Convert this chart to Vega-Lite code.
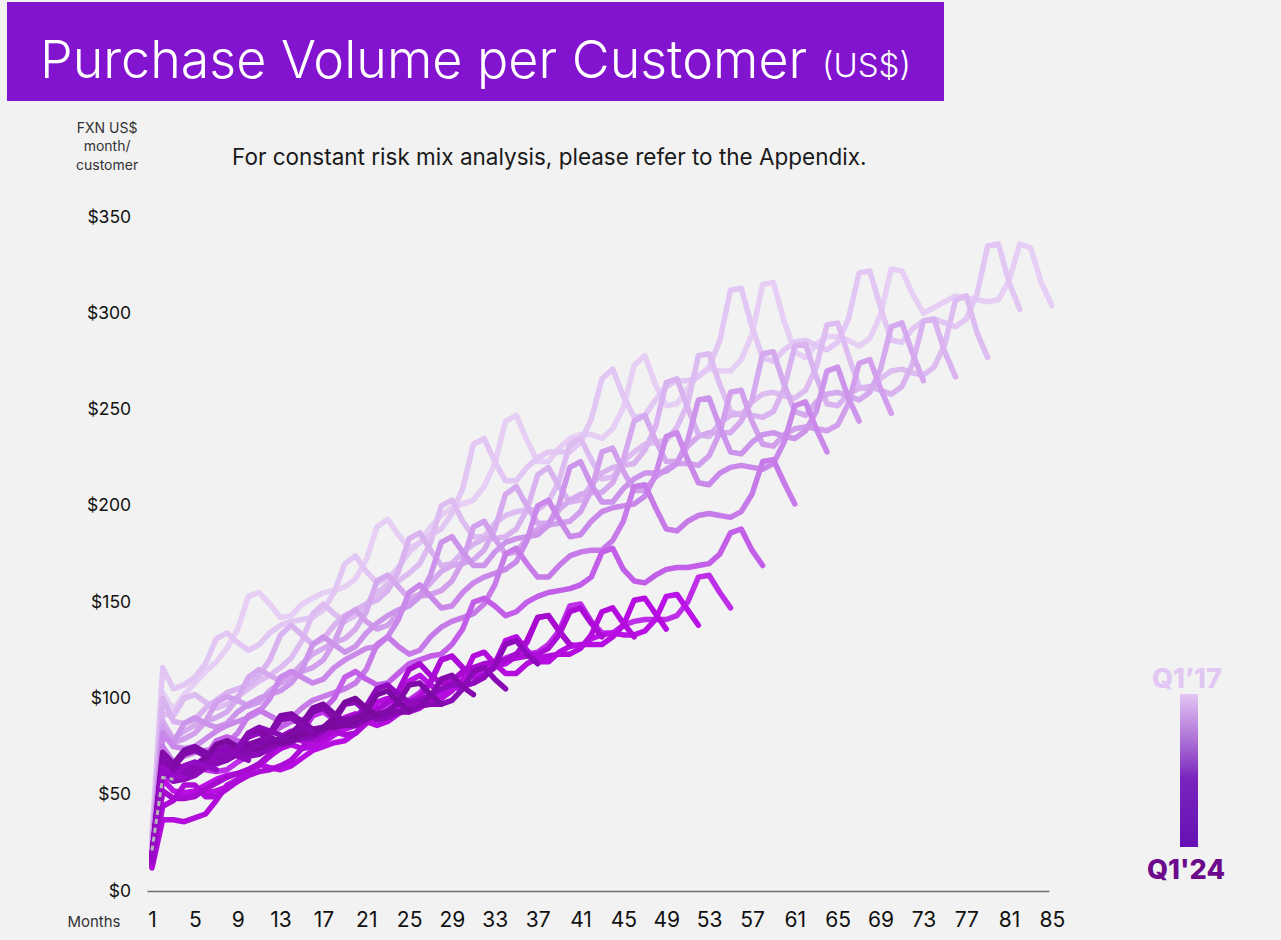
{
"$schema": "https://vega.github.io/schema/vega-lite/v6.json",
"background": "#f2f2f2",
"autosize": {"type": "none"},
"padding": {"left": 7, "top": 2, "right": 1274, "bottom": 938},
"config": {"view": {"stroke": null}, "font": "Inter"},
"title": {"text": "(US$)", "anchor": "start", "frame": "group", "orient": "top", "offset": -108, "dx": 815, "baseline": "alphabetic", "align": "left", "fontSize": 33, "fontWeight": 300, "font": "Inter", "color": "#ffffff", "zindex": 1},
"spacing": 20,
"resolve": {"scale": {"color": "independent"}, "legend": {"color": "independent"}},
"vconcat": [
{
"width": 937, "height": 99,
"view": {"fill": "#8214cf", "stroke": null},
"title": {"text": "Purchase Volume per Customer", "anchor": "start", "frame": "group", "orient": "top", "offset": -128, "dx": 33, "baseline": "alphabetic", "align": "left", "fontSize": 52, "fontWeight": 300, "font": "Inter", "color": "#ffffff"},
"data": {"values": [{}]},
"mark": {"type": "rect", "color": "#8214cf"}
},
{
"width": 1047, "height": 674,
"title": {"text": "For constant risk mix analysis, please refer to the Appendix.", "anchor": "start", "frame": "group", "offset": -66.5, "dx": 225, "baseline": "alphabetic", "align": "left", "fontSize": 22.5, "fontWeight": "normal", "font": "Inter", "color": "#1a1a1a"},
"encoding": {
"x": {"field": "m", "type": "quantitative", "scale": {"domain": [-12.53, 85.19], "nice": false, "zero": false},
 "axis": {"values": [1,5,9,13,17,21,25,29,33,37,41,45,49,53,57,61,65,69,73,77,81,85], "domain": true, "domainColor": "#6e6e6e", "domainWidth": 1.6, "domainDash": [0, 140, 902, 300], "ticks": false, "grid": false, "labelFontSize": 21, "labelFont": "Inter", "labelColor": "#111111", "labelPadding": 18, "labelFlush": false, "labelOverlap": false, "title": "Months", "titleX": 113, "titleY": 30, "titleAlign": "right", "titleBaseline": "middle", "titleFontSize": 15, "titleFont": "Inter", "titleFontWeight": "normal", "titleColor": "#333333"}},
"y": {"field": "v", "type": "quantitative", "scale": {"domain": [0, 350], "nice": false},
 "axis": {"values": [0,50,100,150,200,250,300,350], "labelExpr": "'$' + datum.value", "offset": -139.6, "domain": false, "ticks": false, "grid": false, "labelFontSize": 17.5, "labelFont": "Inter", "labelColor": "#111111", "labelPadding": 16, "labelFlush": false, "labelOverlap": false, "title": ["FXN US$", "month/", "customer"], "titleAngle": 0, "titleAlign": "center", "titleBaseline": "top", "titleX": -40, "titleY": -96, "titleFontSize": 14, "titleFont": "Inter", "titleFontWeight": "normal", "titleColor": "#333333", "titleLineHeight": 18.5}}
},
"resolve": {"scale": {"color": "independent"}},
"layer": [
{
"data": {"values": [
{"c":0,"m":1,"v":27},{"c":0,"m":2,"v":103},{"c":0,"m":3,"v":94},{"c":0,"m":4,"v":102},{"c":0,"m":5,"v":108},{"c":0,"m":6,"v":114},{"c":0,"m":7,"v":119},{"c":0,"m":8,"v":126},{"c":0,"m":9,"v":136},{"c":0,"m":10,"v":153},
{"c":0,"m":11,"v":155},{"c":0,"m":12,"v":149},{"c":0,"m":13,"v":142},{"c":0,"m":14,"v":143},{"c":0,"m":15,"v":149},{"c":0,"m":16,"v":152},{"c":0,"m":17,"v":155},{"c":0,"m":18,"v":156},{"c":0,"m":19,"v":158},{"c":0,"m":20,"v":162},
{"c":0,"m":21,"v":172},{"c":0,"m":22,"v":189},{"c":0,"m":23,"v":193},{"c":0,"m":24,"v":185},{"c":0,"m":25,"v":178},{"c":0,"m":26,"v":181},{"c":0,"m":27,"v":189},{"c":0,"m":28,"v":195},{"c":0,"m":29,"v":199},{"c":0,"m":30,"v":201},
{"c":0,"m":31,"v":203},{"c":0,"m":32,"v":210},{"c":0,"m":33,"v":222},{"c":0,"m":34,"v":244},{"c":0,"m":35,"v":247},{"c":0,"m":36,"v":234},{"c":0,"m":37,"v":223},{"c":0,"m":38,"v":223},{"c":0,"m":39,"v":230},{"c":0,"m":40,"v":235},
{"c":0,"m":41,"v":237},{"c":0,"m":42,"v":237},{"c":0,"m":43,"v":235},{"c":0,"m":44,"v":240},{"c":0,"m":45,"v":251},{"c":0,"m":46,"v":273},{"c":0,"m":47,"v":278},{"c":0,"m":48,"v":263},{"c":0,"m":49,"v":252},{"c":0,"m":50,"v":253},
{"c":0,"m":51,"v":261},{"c":0,"m":52,"v":268},{"c":0,"m":53,"v":271},{"c":0,"m":54,"v":270},{"c":0,"m":55,"v":270},{"c":0,"m":56,"v":276},{"c":0,"m":57,"v":289},{"c":0,"m":58,"v":315},{"c":0,"m":59,"v":316},{"c":0,"m":60,"v":296},
{"c":0,"m":61,"v":280},{"c":0,"m":62,"v":277},{"c":0,"m":63,"v":284},{"c":0,"m":64,"v":288},{"c":0,"m":65,"v":288},{"c":0,"m":66,"v":286},{"c":0,"m":67,"v":283},{"c":0,"m":68,"v":287},{"c":0,"m":69,"v":299},{"c":0,"m":70,"v":323},
{"c":0,"m":71,"v":322},{"c":0,"m":72,"v":310},{"c":0,"m":73,"v":300},{"c":0,"m":74,"v":303},{"c":0,"m":75,"v":306},{"c":0,"m":76,"v":309},{"c":0,"m":77,"v":308},{"c":0,"m":78,"v":307},{"c":0,"m":79,"v":306},{"c":0,"m":80,"v":307},
{"c":0,"m":81,"v":317},{"c":0,"m":82,"v":336},{"c":0,"m":83,"v":334},{"c":0,"m":84,"v":316},{"c":0,"m":85,"v":304},
{"c":1,"m":1,"v":29},{"c":1,"m":2,"v":116},{"c":1,"m":3,"v":105},{"c":1,"m":4,"v":107},{"c":1,"m":5,"v":111},{"c":1,"m":6,"v":118},{"c":1,"m":7,"v":131},{"c":1,"m":8,"v":134},{"c":1,"m":9,"v":129},{"c":1,"m":10,"v":125},
{"c":1,"m":11,"v":128},{"c":1,"m":12,"v":134},{"c":1,"m":13,"v":138},{"c":1,"m":14,"v":140},{"c":1,"m":15,"v":141},{"c":1,"m":16,"v":142},{"c":1,"m":17,"v":146},{"c":1,"m":18,"v":155},{"c":1,"m":19,"v":170},{"c":1,"m":20,"v":174},
{"c":1,"m":21,"v":166},{"c":1,"m":22,"v":160},{"c":1,"m":23,"v":162},{"c":1,"m":24,"v":168},{"c":1,"m":25,"v":176},{"c":1,"m":26,"v":181},{"c":1,"m":27,"v":185},{"c":1,"m":28,"v":188},{"c":1,"m":29,"v":196},{"c":1,"m":30,"v":209},
{"c":1,"m":31,"v":232},{"c":1,"m":32,"v":235},{"c":1,"m":33,"v":223},{"c":1,"m":34,"v":213},{"c":1,"m":35,"v":213},{"c":1,"m":36,"v":220},{"c":1,"m":37,"v":225},{"c":1,"m":38,"v":228},{"c":1,"m":39,"v":228},{"c":1,"m":40,"v":228},
{"c":1,"m":41,"v":233},{"c":1,"m":42,"v":245},{"c":1,"m":43,"v":266},{"c":1,"m":44,"v":271},{"c":1,"m":45,"v":257},{"c":1,"m":46,"v":246},{"c":1,"m":47,"v":247},{"c":1,"m":48,"v":255},{"c":1,"m":49,"v":262},{"c":1,"m":50,"v":265},
{"c":1,"m":51,"v":265},{"c":1,"m":52,"v":267},{"c":1,"m":53,"v":272},{"c":1,"m":54,"v":286},{"c":1,"m":55,"v":312},{"c":1,"m":56,"v":313},{"c":1,"m":57,"v":293},{"c":1,"m":58,"v":277},{"c":1,"m":59,"v":275},{"c":1,"m":60,"v":281},
{"c":1,"m":61,"v":285},{"c":1,"m":62,"v":286},{"c":1,"m":63,"v":283},{"c":1,"m":64,"v":281},{"c":1,"m":65,"v":285},{"c":1,"m":66,"v":297},{"c":1,"m":67,"v":321},{"c":1,"m":68,"v":322},{"c":1,"m":69,"v":303},{"c":1,"m":70,"v":286},
{"c":1,"m":71,"v":285},{"c":1,"m":72,"v":292},{"c":1,"m":73,"v":296},{"c":1,"m":74,"v":297},{"c":1,"m":75,"v":295},{"c":1,"m":76,"v":293},{"c":1,"m":77,"v":297},{"c":1,"m":78,"v":310},{"c":1,"m":79,"v":335},{"c":1,"m":80,"v":336},
{"c":1,"m":81,"v":316},{"c":1,"m":82,"v":302},
{"c":2,"m":1,"v":24},{"c":2,"m":2,"v":92},{"c":2,"m":3,"v":91},{"c":2,"m":4,"v":100},{"c":2,"m":5,"v":102},{"c":2,"m":6,"v":98},{"c":2,"m":7,"v":95},{"c":2,"m":8,"v":97},{"c":2,"m":9,"v":101},{"c":2,"m":10,"v":105},
{"c":2,"m":11,"v":109},{"c":2,"m":12,"v":112},{"c":2,"m":13,"v":116},{"c":2,"m":14,"v":121},{"c":2,"m":15,"v":130},{"c":2,"m":16,"v":144},{"c":2,"m":17,"v":149},{"c":2,"m":18,"v":144},{"c":2,"m":19,"v":140},{"c":2,"m":20,"v":143},
{"c":2,"m":21,"v":149},{"c":2,"m":22,"v":155},{"c":2,"m":23,"v":159},{"c":2,"m":24,"v":161},{"c":2,"m":25,"v":165},{"c":2,"m":26,"v":170},{"c":2,"m":27,"v":181},{"c":2,"m":28,"v":200},{"c":2,"m":29,"v":203},{"c":2,"m":30,"v":192},
{"c":2,"m":31,"v":184},{"c":2,"m":32,"v":184},{"c":2,"m":33,"v":191},{"c":2,"m":34,"v":195},{"c":2,"m":35,"v":197},{"c":2,"m":36,"v":198},{"c":2,"m":37,"v":198},{"c":2,"m":38,"v":202},{"c":2,"m":39,"v":213},{"c":2,"m":40,"v":232},
{"c":2,"m":41,"v":235},{"c":2,"m":42,"v":224},{"c":2,"m":43,"v":214},{"c":2,"m":44,"v":215},{"c":2,"m":45,"v":223},{"c":2,"m":46,"v":228},{"c":2,"m":47,"v":232},{"c":2,"m":48,"v":233},{"c":2,"m":49,"v":234},{"c":2,"m":50,"v":241},
{"c":2,"m":51,"v":253},{"c":2,"m":52,"v":278},{"c":2,"m":53,"v":279},{"c":2,"m":54,"v":263},{"c":2,"m":55,"v":249},{"c":2,"m":56,"v":247},{"c":2,"m":57,"v":254},{"c":2,"m":58,"v":258},{"c":2,"m":59,"v":259},{"c":2,"m":60,"v":257},
{"c":2,"m":61,"v":256},{"c":2,"m":62,"v":260},{"c":2,"m":63,"v":272},{"c":2,"m":64,"v":294},{"c":2,"m":65,"v":295},{"c":2,"m":66,"v":278},{"c":2,"m":67,"v":262},{"c":2,"m":68,"v":260},{"c":2,"m":69,"v":266},{"c":2,"m":70,"v":270},
{"c":2,"m":71,"v":271},{"c":2,"m":72,"v":269},{"c":2,"m":73,"v":268},{"c":2,"m":74,"v":272},{"c":2,"m":75,"v":284},{"c":2,"m":76,"v":307},{"c":2,"m":77,"v":309},{"c":2,"m":78,"v":290},{"c":2,"m":79,"v":277},
{"c":3,"m":1,"v":26},{"c":3,"m":2,"v":100},{"c":3,"m":3,"v":88},{"c":3,"m":4,"v":87},{"c":3,"m":5,"v":89},{"c":3,"m":6,"v":95},{"c":3,"m":7,"v":99},{"c":3,"m":8,"v":103},{"c":3,"m":9,"v":105},{"c":3,"m":10,"v":107},
{"c":3,"m":11,"v":112},{"c":3,"m":12,"v":120},{"c":3,"m":13,"v":133},{"c":3,"m":14,"v":138},{"c":3,"m":15,"v":133},{"c":3,"m":16,"v":128},{"c":3,"m":17,"v":131},{"c":3,"m":18,"v":138},{"c":3,"m":19,"v":143},{"c":3,"m":20,"v":146},
{"c":3,"m":21,"v":149},{"c":3,"m":22,"v":151},{"c":3,"m":23,"v":156},{"c":3,"m":24,"v":166},{"c":3,"m":25,"v":183},{"c":3,"m":26,"v":186},{"c":3,"m":27,"v":177},{"c":3,"m":28,"v":169},{"c":3,"m":29,"v":170},{"c":3,"m":30,"v":176},
{"c":3,"m":31,"v":180},{"c":3,"m":32,"v":183},{"c":3,"m":33,"v":183},{"c":3,"m":34,"v":184},{"c":3,"m":35,"v":188},{"c":3,"m":36,"v":198},{"c":3,"m":37,"v":216},{"c":3,"m":38,"v":220},{"c":3,"m":39,"v":210},{"c":3,"m":40,"v":202},
{"c":3,"m":41,"v":203},{"c":3,"m":42,"v":211},{"c":3,"m":43,"v":217},{"c":3,"m":44,"v":220},{"c":3,"m":45,"v":221},{"c":3,"m":46,"v":222},{"c":3,"m":47,"v":229},{"c":3,"m":48,"v":241},{"c":3,"m":49,"v":264},{"c":3,"m":50,"v":266},
{"c":3,"m":51,"v":251},{"c":3,"m":52,"v":237},{"c":3,"m":53,"v":236},{"c":3,"m":54,"v":243},{"c":3,"m":55,"v":247},{"c":3,"m":56,"v":248},{"c":3,"m":57,"v":247},{"c":3,"m":58,"v":246},{"c":3,"m":59,"v":249},{"c":3,"m":60,"v":261},
{"c":3,"m":61,"v":283},{"c":3,"m":62,"v":284},{"c":3,"m":63,"v":267},{"c":3,"m":64,"v":253},{"c":3,"m":65,"v":252},{"c":3,"m":66,"v":258},{"c":3,"m":67,"v":261},{"c":3,"m":68,"v":262},{"c":3,"m":69,"v":260},{"c":3,"m":70,"v":258},
{"c":3,"m":71,"v":262},{"c":3,"m":72,"v":274},{"c":3,"m":73,"v":296},{"c":3,"m":74,"v":297},{"c":3,"m":75,"v":280},{"c":3,"m":76,"v":267},
{"c":4,"m":1,"v":22},{"c":4,"m":2,"v":88},{"c":4,"m":3,"v":79},{"c":4,"m":4,"v":83},{"c":4,"m":5,"v":86},{"c":4,"m":6,"v":88},{"c":4,"m":7,"v":90},{"c":4,"m":8,"v":93},{"c":4,"m":9,"v":100},{"c":4,"m":10,"v":111},
{"c":4,"m":11,"v":115},{"c":4,"m":12,"v":112},{"c":4,"m":13,"v":109},{"c":4,"m":14,"v":112},{"c":4,"m":15,"v":118},{"c":4,"m":16,"v":123},{"c":4,"m":17,"v":126},{"c":4,"m":18,"v":129},{"c":4,"m":19,"v":131},{"c":4,"m":20,"v":136},
{"c":4,"m":21,"v":145},{"c":4,"m":22,"v":161},{"c":4,"m":23,"v":164},{"c":4,"m":24,"v":158},{"c":4,"m":25,"v":152},{"c":4,"m":26,"v":154},{"c":4,"m":27,"v":160},{"c":4,"m":28,"v":166},{"c":4,"m":29,"v":169},{"c":4,"m":30,"v":170},
{"c":4,"m":31,"v":172},{"c":4,"m":32,"v":177},{"c":4,"m":33,"v":188},{"c":4,"m":34,"v":206},{"c":4,"m":35,"v":210},{"c":4,"m":36,"v":200},{"c":4,"m":37,"v":191},{"c":4,"m":38,"v":191},{"c":4,"m":39,"v":198},{"c":4,"m":40,"v":203},
{"c":4,"m":41,"v":206},{"c":4,"m":42,"v":207},{"c":4,"m":43,"v":207},{"c":4,"m":44,"v":212},{"c":4,"m":45,"v":224},{"c":4,"m":46,"v":244},{"c":4,"m":47,"v":247},{"c":4,"m":48,"v":234},{"c":4,"m":49,"v":223},{"c":4,"m":50,"v":223},
{"c":4,"m":51,"v":231},{"c":4,"m":52,"v":236},{"c":4,"m":53,"v":238},{"c":4,"m":54,"v":238},{"c":4,"m":55,"v":238},{"c":4,"m":56,"v":244},{"c":4,"m":57,"v":255},{"c":4,"m":58,"v":279},{"c":4,"m":59,"v":280},{"c":4,"m":60,"v":263},
{"c":4,"m":61,"v":249},{"c":4,"m":62,"v":247},{"c":4,"m":63,"v":254},{"c":4,"m":64,"v":258},{"c":4,"m":65,"v":259},{"c":4,"m":66,"v":257},{"c":4,"m":67,"v":255},{"c":4,"m":68,"v":259},{"c":4,"m":69,"v":271},{"c":4,"m":70,"v":293},
{"c":4,"m":71,"v":295},{"c":4,"m":72,"v":279},{"c":4,"m":73,"v":265},
{"c":5,"m":1,"v":21},{"c":5,"m":2,"v":85},{"c":5,"m":3,"v":77},{"c":5,"m":4,"v":79},{"c":5,"m":5,"v":82},{"c":5,"m":6,"v":88},{"c":5,"m":7,"v":98},{"c":5,"m":8,"v":101},{"c":5,"m":9,"v":99},{"c":5,"m":10,"v":96},
{"c":5,"m":11,"v":98},{"c":5,"m":12,"v":104},{"c":5,"m":13,"v":108},{"c":5,"m":14,"v":111},{"c":5,"m":15,"v":114},{"c":5,"m":16,"v":116},{"c":5,"m":17,"v":120},{"c":5,"m":18,"v":129},{"c":5,"m":19,"v":142},{"c":5,"m":20,"v":146},
{"c":5,"m":21,"v":140},{"c":5,"m":22,"v":136},{"c":5,"m":23,"v":138},{"c":5,"m":24,"v":144},{"c":5,"m":25,"v":149},{"c":5,"m":26,"v":153},{"c":5,"m":27,"v":154},{"c":5,"m":28,"v":156},{"c":5,"m":29,"v":161},{"c":5,"m":30,"v":171},
{"c":5,"m":31,"v":189},{"c":5,"m":32,"v":192},{"c":5,"m":33,"v":183},{"c":5,"m":34,"v":175},{"c":5,"m":35,"v":176},{"c":5,"m":36,"v":183},{"c":5,"m":37,"v":188},{"c":5,"m":38,"v":190},{"c":5,"m":39,"v":191},{"c":5,"m":40,"v":192},
{"c":5,"m":41,"v":197},{"c":5,"m":42,"v":208},{"c":5,"m":43,"v":228},{"c":5,"m":44,"v":230},{"c":5,"m":45,"v":218},{"c":5,"m":46,"v":208},{"c":5,"m":47,"v":208},{"c":5,"m":48,"v":215},{"c":5,"m":49,"v":219},{"c":5,"m":50,"v":222},
{"c":5,"m":51,"v":222},{"c":5,"m":52,"v":221},{"c":5,"m":53,"v":226},{"c":5,"m":54,"v":238},{"c":5,"m":55,"v":259},{"c":5,"m":56,"v":260},{"c":5,"m":57,"v":244},{"c":5,"m":58,"v":232},{"c":5,"m":59,"v":231},{"c":5,"m":60,"v":237},
{"c":5,"m":61,"v":240},{"c":5,"m":62,"v":241},{"c":5,"m":63,"v":240},{"c":5,"m":64,"v":239},{"c":5,"m":65,"v":242},{"c":5,"m":66,"v":253},{"c":5,"m":67,"v":274},{"c":5,"m":68,"v":276},{"c":5,"m":69,"v":261},{"c":5,"m":70,"v":248},
{"c":6,"m":1,"v":20},{"c":6,"m":2,"v":80},{"c":6,"m":3,"v":77},{"c":6,"m":4,"v":87},{"c":6,"m":5,"v":90},{"c":6,"m":6,"v":87},{"c":6,"m":7,"v":85},{"c":6,"m":8,"v":87},{"c":6,"m":9,"v":93},{"c":6,"m":10,"v":97},
{"c":6,"m":11,"v":100},{"c":6,"m":12,"v":102},{"c":6,"m":13,"v":104},{"c":6,"m":14,"v":108},{"c":6,"m":15,"v":115},{"c":6,"m":16,"v":128},{"c":6,"m":17,"v":132},{"c":6,"m":18,"v":128},{"c":6,"m":19,"v":124},{"c":6,"m":20,"v":127},
{"c":6,"m":21,"v":134},{"c":6,"m":22,"v":139},{"c":6,"m":23,"v":143},{"c":6,"m":24,"v":146},{"c":6,"m":25,"v":148},{"c":6,"m":26,"v":153},{"c":6,"m":27,"v":164},{"c":6,"m":28,"v":181},{"c":6,"m":29,"v":184},{"c":6,"m":30,"v":176},
{"c":6,"m":31,"v":169},{"c":6,"m":32,"v":169},{"c":6,"m":33,"v":176},{"c":6,"m":34,"v":181},{"c":6,"m":35,"v":183},{"c":6,"m":36,"v":184},{"c":6,"m":37,"v":185},{"c":6,"m":38,"v":190},{"c":6,"m":39,"v":201},{"c":6,"m":40,"v":220},
{"c":6,"m":41,"v":223},{"c":6,"m":42,"v":211},{"c":6,"m":43,"v":202},{"c":6,"m":44,"v":202},{"c":6,"m":45,"v":209},{"c":6,"m":46,"v":214},{"c":6,"m":47,"v":217},{"c":6,"m":48,"v":217},{"c":6,"m":49,"v":218},{"c":6,"m":50,"v":222},
{"c":6,"m":51,"v":234},{"c":6,"m":52,"v":255},{"c":6,"m":53,"v":256},{"c":6,"m":54,"v":241},{"c":6,"m":55,"v":228},{"c":6,"m":56,"v":227},{"c":6,"m":57,"v":233},{"c":6,"m":58,"v":237},{"c":6,"m":59,"v":238},{"c":6,"m":60,"v":236},
{"c":6,"m":61,"v":235},{"c":6,"m":62,"v":239},{"c":6,"m":63,"v":249},{"c":6,"m":64,"v":270},{"c":6,"m":65,"v":272},{"c":6,"m":66,"v":256},{"c":6,"m":67,"v":244},
{"c":7,"m":1,"v":20},{"c":7,"m":2,"v":82},{"c":7,"m":3,"v":75},{"c":7,"m":4,"v":74},{"c":7,"m":5,"v":75},{"c":7,"m":6,"v":79},{"c":7,"m":7,"v":83},{"c":7,"m":8,"v":86},{"c":7,"m":9,"v":88},{"c":7,"m":10,"v":90},
{"c":7,"m":11,"v":93},{"c":7,"m":12,"v":100},{"c":7,"m":13,"v":111},{"c":7,"m":14,"v":114},{"c":7,"m":15,"v":111},{"c":7,"m":16,"v":108},{"c":7,"m":17,"v":110},{"c":7,"m":18,"v":116},{"c":7,"m":19,"v":120},{"c":7,"m":20,"v":123},
{"c":7,"m":21,"v":126},{"c":7,"m":22,"v":127},{"c":7,"m":23,"v":132},{"c":7,"m":24,"v":141},{"c":7,"m":25,"v":155},{"c":7,"m":26,"v":159},{"c":7,"m":27,"v":153},{"c":7,"m":28,"v":147},{"c":7,"m":29,"v":148},{"c":7,"m":30,"v":155},
{"c":7,"m":31,"v":160},{"c":7,"m":32,"v":163},{"c":7,"m":33,"v":165},{"c":7,"m":34,"v":167},{"c":7,"m":35,"v":171},{"c":7,"m":36,"v":182},{"c":7,"m":37,"v":200},{"c":7,"m":38,"v":203},{"c":7,"m":39,"v":193},{"c":7,"m":40,"v":184},
{"c":7,"m":41,"v":185},{"c":7,"m":42,"v":192},{"c":7,"m":43,"v":197},{"c":7,"m":44,"v":199},{"c":7,"m":45,"v":200},{"c":7,"m":46,"v":201},{"c":7,"m":47,"v":205},{"c":7,"m":48,"v":216},{"c":7,"m":49,"v":236},{"c":7,"m":50,"v":238},
{"c":7,"m":51,"v":224},{"c":7,"m":52,"v":212},{"c":7,"m":53,"v":211},{"c":7,"m":54,"v":217},{"c":7,"m":55,"v":220},{"c":7,"m":56,"v":221},{"c":7,"m":57,"v":220},{"c":7,"m":58,"v":219},{"c":7,"m":59,"v":222},{"c":7,"m":60,"v":233},
{"c":7,"m":61,"v":252},{"c":7,"m":62,"v":254},{"c":7,"m":63,"v":240},{"c":7,"m":64,"v":228},
{"c":8,"m":1,"v":19},{"c":8,"m":2,"v":75},{"c":8,"m":3,"v":67},{"c":8,"m":4,"v":70},{"c":8,"m":5,"v":72},{"c":8,"m":6,"v":73},{"c":8,"m":7,"v":74},{"c":8,"m":8,"v":77},{"c":8,"m":9,"v":82},{"c":8,"m":10,"v":91},
{"c":8,"m":11,"v":94},{"c":8,"m":12,"v":91},{"c":8,"m":13,"v":88},{"c":8,"m":14,"v":90},{"c":8,"m":15,"v":95},{"c":8,"m":16,"v":99},{"c":8,"m":17,"v":101},{"c":8,"m":18,"v":103},{"c":8,"m":19,"v":105},{"c":8,"m":20,"v":108},
{"c":8,"m":21,"v":115},{"c":8,"m":22,"v":128},{"c":8,"m":23,"v":132},{"c":8,"m":24,"v":127},{"c":8,"m":25,"v":123},{"c":8,"m":26,"v":125},{"c":8,"m":27,"v":132},{"c":8,"m":28,"v":137},{"c":8,"m":29,"v":140},{"c":8,"m":30,"v":142},
{"c":8,"m":31,"v":144},{"c":8,"m":32,"v":149},{"c":8,"m":33,"v":159},{"c":8,"m":34,"v":175},{"c":8,"m":35,"v":178},{"c":8,"m":36,"v":170},{"c":8,"m":37,"v":163},{"c":8,"m":38,"v":163},{"c":8,"m":39,"v":169},{"c":8,"m":40,"v":174},
{"c":8,"m":41,"v":176},{"c":8,"m":42,"v":177},{"c":8,"m":43,"v":177},{"c":8,"m":44,"v":182},{"c":8,"m":45,"v":192},{"c":8,"m":46,"v":210},{"c":8,"m":47,"v":211},{"c":8,"m":48,"v":199},{"c":8,"m":49,"v":188},{"c":8,"m":50,"v":187},
{"c":8,"m":51,"v":192},{"c":8,"m":52,"v":195},{"c":8,"m":53,"v":196},{"c":8,"m":54,"v":195},{"c":8,"m":55,"v":194},{"c":8,"m":56,"v":197},{"c":8,"m":57,"v":206},{"c":8,"m":58,"v":223},{"c":8,"m":59,"v":224},{"c":8,"m":60,"v":212},
{"c":8,"m":61,"v":201},
{"c":9,"m":1,"v":18},{"c":9,"m":2,"v":68},{"c":9,"m":3,"v":61},{"c":9,"m":4,"v":63},{"c":9,"m":5,"v":65},{"c":9,"m":6,"v":70},{"c":9,"m":7,"v":78},{"c":9,"m":8,"v":80},{"c":9,"m":9,"v":78},{"c":9,"m":10,"v":76},
{"c":9,"m":11,"v":78},{"c":9,"m":12,"v":82},{"c":9,"m":13,"v":85},{"c":9,"m":14,"v":88},{"c":9,"m":15,"v":89},{"c":9,"m":16,"v":91},{"c":9,"m":17,"v":94},{"c":9,"m":18,"v":100},{"c":9,"m":19,"v":111},{"c":9,"m":20,"v":114},
{"c":9,"m":21,"v":110},{"c":9,"m":22,"v":107},{"c":9,"m":23,"v":108},{"c":9,"m":24,"v":113},{"c":9,"m":25,"v":118},{"c":9,"m":26,"v":120},{"c":9,"m":27,"v":122},{"c":9,"m":28,"v":123},{"c":9,"m":29,"v":128},{"c":9,"m":30,"v":136},
{"c":9,"m":31,"v":150},{"c":9,"m":32,"v":152},{"c":9,"m":33,"v":148},{"c":9,"m":34,"v":143},{"c":9,"m":35,"v":145},{"c":9,"m":36,"v":150},{"c":9,"m":37,"v":153},{"c":9,"m":38,"v":155},{"c":9,"m":39,"v":156},{"c":9,"m":40,"v":157},
{"c":9,"m":41,"v":159},{"c":9,"m":42,"v":163},{"c":9,"m":43,"v":176},{"c":9,"m":44,"v":178},{"c":9,"m":45,"v":167},{"c":9,"m":46,"v":161},{"c":9,"m":47,"v":160},{"c":9,"m":48,"v":164},{"c":9,"m":49,"v":167},{"c":9,"m":50,"v":168},
{"c":9,"m":51,"v":168},{"c":9,"m":52,"v":169},{"c":9,"m":53,"v":170},{"c":9,"m":54,"v":175},{"c":9,"m":55,"v":186},{"c":9,"m":56,"v":188},{"c":9,"m":57,"v":177},{"c":9,"m":58,"v":169},
{"c":10,"m":1,"v":16},{"c":10,"m":2,"v":60},{"c":10,"m":3,"v":57},{"c":10,"m":4,"v":63},{"c":10,"m":5,"v":65},{"c":10,"m":6,"v":63},{"c":10,"m":7,"v":62},{"c":10,"m":8,"v":63},{"c":10,"m":9,"v":67},{"c":10,"m":10,"v":70},
{"c":10,"m":11,"v":72},{"c":10,"m":12,"v":73},{"c":10,"m":13,"v":74},{"c":10,"m":14,"v":77},{"c":10,"m":15,"v":82},{"c":10,"m":16,"v":91},{"c":10,"m":17,"v":93},{"c":10,"m":18,"v":89},{"c":10,"m":19,"v":87},{"c":10,"m":20,"v":88},
{"c":10,"m":21,"v":92},{"c":10,"m":22,"v":95},{"c":10,"m":23,"v":97},{"c":10,"m":24,"v":98},{"c":10,"m":25,"v":99},{"c":10,"m":26,"v":103},{"c":10,"m":27,"v":109},{"c":10,"m":28,"v":120},{"c":10,"m":29,"v":122},{"c":10,"m":30,"v":116},
{"c":10,"m":31,"v":112},{"c":10,"m":32,"v":113},{"c":10,"m":33,"v":117},{"c":10,"m":34,"v":121},{"c":10,"m":35,"v":123},{"c":10,"m":36,"v":123},{"c":10,"m":37,"v":124},{"c":10,"m":38,"v":128},{"c":10,"m":39,"v":135},{"c":10,"m":40,"v":148},
{"c":10,"m":41,"v":149},{"c":10,"m":42,"v":140},{"c":10,"m":43,"v":134},{"c":10,"m":44,"v":134},{"c":10,"m":45,"v":138},{"c":10,"m":46,"v":140},{"c":10,"m":47,"v":141},{"c":10,"m":48,"v":141},{"c":10,"m":49,"v":141},{"c":10,"m":50,"v":143},
{"c":10,"m":51,"v":150},{"c":10,"m":52,"v":163},{"c":10,"m":53,"v":164},{"c":10,"m":54,"v":155},{"c":10,"m":55,"v":147},
{"c":11,"m":1,"v":15},{"c":11,"m":2,"v":58},{"c":11,"m":3,"v":52},{"c":11,"m":4,"v":51},{"c":11,"m":5,"v":52},{"c":11,"m":6,"v":55},{"c":11,"m":7,"v":58},{"c":11,"m":8,"v":60},{"c":11,"m":9,"v":61},{"c":11,"m":10,"v":63},
{"c":11,"m":11,"v":65},{"c":11,"m":12,"v":70},{"c":11,"m":13,"v":78},{"c":11,"m":14,"v":80},{"c":11,"m":15,"v":78},{"c":11,"m":16,"v":75},{"c":11,"m":17,"v":77},{"c":11,"m":18,"v":81},{"c":11,"m":19,"v":84},{"c":11,"m":20,"v":86},
{"c":11,"m":21,"v":88},{"c":11,"m":22,"v":89},{"c":11,"m":23,"v":92},{"c":11,"m":24,"v":99},{"c":11,"m":25,"v":109},{"c":11,"m":26,"v":112},{"c":11,"m":27,"v":107},{"c":11,"m":28,"v":103},{"c":11,"m":29,"v":105},{"c":11,"m":30,"v":109},
{"c":11,"m":31,"v":113},{"c":11,"m":32,"v":116},{"c":11,"m":33,"v":117},{"c":11,"m":34,"v":118},{"c":11,"m":35,"v":122},{"c":11,"m":36,"v":129},{"c":11,"m":37,"v":142},{"c":11,"m":38,"v":143},{"c":11,"m":39,"v":135},{"c":11,"m":40,"v":128},
{"c":11,"m":41,"v":127},{"c":11,"m":42,"v":131},{"c":11,"m":43,"v":133},{"c":11,"m":44,"v":134},{"c":11,"m":45,"v":133},{"c":11,"m":46,"v":133},{"c":11,"m":47,"v":135},{"c":11,"m":48,"v":141},{"c":11,"m":49,"v":153},{"c":11,"m":50,"v":154},
{"c":11,"m":51,"v":146},{"c":11,"m":52,"v":138},
{"c":12,"m":1,"v":14},{"c":12,"m":2,"v":52},{"c":12,"m":3,"v":48},{"c":12,"m":4,"v":49},{"c":12,"m":5,"v":51},{"c":12,"m":6,"v":51},{"c":12,"m":7,"v":52},{"c":12,"m":8,"v":54},{"c":12,"m":9,"v":57},{"c":12,"m":10,"v":63},
{"c":12,"m":11,"v":66},{"c":12,"m":12,"v":64},{"c":12,"m":13,"v":63},{"c":12,"m":14,"v":65},{"c":12,"m":15,"v":69},{"c":12,"m":16,"v":73},{"c":12,"m":17,"v":75},{"c":12,"m":18,"v":77},{"c":12,"m":19,"v":78},{"c":12,"m":20,"v":82},
{"c":12,"m":21,"v":88},{"c":12,"m":22,"v":98},{"c":12,"m":23,"v":100},{"c":12,"m":24,"v":97},{"c":12,"m":25,"v":93},{"c":12,"m":26,"v":95},{"c":12,"m":27,"v":99},{"c":12,"m":28,"v":103},{"c":12,"m":29,"v":105},{"c":12,"m":30,"v":106},
{"c":12,"m":31,"v":108},{"c":12,"m":32,"v":111},{"c":12,"m":33,"v":118},{"c":12,"m":34,"v":130},{"c":12,"m":35,"v":132},{"c":12,"m":36,"v":125},{"c":12,"m":37,"v":119},{"c":12,"m":38,"v":119},{"c":12,"m":39,"v":124},{"c":12,"m":40,"v":127},
{"c":12,"m":41,"v":128},{"c":12,"m":42,"v":128},{"c":12,"m":43,"v":128},{"c":12,"m":44,"v":132},{"c":12,"m":45,"v":138},{"c":12,"m":46,"v":151},{"c":12,"m":47,"v":152},{"c":12,"m":48,"v":144},{"c":12,"m":49,"v":136},
{"c":13,"m":1,"v":12},{"c":13,"m":2,"v":37},{"c":13,"m":3,"v":37},{"c":13,"m":4,"v":36},{"c":13,"m":5,"v":38},{"c":13,"m":6,"v":40},{"c":13,"m":7,"v":47},{"c":13,"m":8,"v":55},{"c":13,"m":9,"v":58},{"c":13,"m":10,"v":62},
{"c":13,"m":11,"v":66},{"c":13,"m":12,"v":70},{"c":13,"m":13,"v":74},{"c":13,"m":14,"v":76},{"c":13,"m":15,"v":74},{"c":13,"m":16,"v":75},{"c":13,"m":17,"v":78},{"c":13,"m":18,"v":83},{"c":13,"m":19,"v":90},{"c":13,"m":20,"v":92},
{"c":13,"m":21,"v":88},{"c":13,"m":22,"v":86},{"c":13,"m":23,"v":88},{"c":13,"m":24,"v":92},{"c":13,"m":25,"v":95},{"c":13,"m":26,"v":97},{"c":13,"m":27,"v":98},{"c":13,"m":28,"v":100},{"c":13,"m":29,"v":104},{"c":13,"m":30,"v":110},
{"c":13,"m":31,"v":122},{"c":13,"m":32,"v":124},{"c":13,"m":33,"v":118},{"c":13,"m":34,"v":113},{"c":13,"m":35,"v":113},{"c":13,"m":36,"v":118},{"c":13,"m":37,"v":121},{"c":13,"m":38,"v":122},{"c":13,"m":39,"v":123},{"c":13,"m":40,"v":123},
{"c":13,"m":41,"v":126},{"c":13,"m":42,"v":133},{"c":13,"m":43,"v":145},{"c":13,"m":44,"v":147},{"c":13,"m":45,"v":139},{"c":13,"m":46,"v":132},
{"c":14,"m":1,"v":13},{"c":14,"m":2,"v":44},{"c":14,"m":3,"v":47},{"c":14,"m":4,"v":55},{"c":14,"m":5,"v":55},{"c":14,"m":6,"v":49},{"c":14,"m":7,"v":49},{"c":14,"m":8,"v":53},{"c":14,"m":9,"v":57},{"c":14,"m":10,"v":60},
{"c":14,"m":11,"v":62},{"c":14,"m":12,"v":63},{"c":14,"m":13,"v":65},{"c":14,"m":14,"v":68},{"c":14,"m":15,"v":74},{"c":14,"m":16,"v":82},{"c":14,"m":17,"v":85},{"c":14,"m":18,"v":83},{"c":14,"m":19,"v":81},{"c":14,"m":20,"v":82},
{"c":14,"m":21,"v":87},{"c":14,"m":22,"v":91},{"c":14,"m":23,"v":94},{"c":14,"m":24,"v":96},{"c":14,"m":25,"v":98},{"c":14,"m":26,"v":101},{"c":14,"m":27,"v":108},{"c":14,"m":28,"v":120},{"c":14,"m":29,"v":122},{"c":14,"m":30,"v":116},
{"c":14,"m":31,"v":111},{"c":14,"m":32,"v":112},{"c":14,"m":33,"v":116},{"c":14,"m":34,"v":120},{"c":14,"m":35,"v":121},{"c":14,"m":36,"v":122},{"c":14,"m":37,"v":123},{"c":14,"m":38,"v":126},{"c":14,"m":39,"v":133},{"c":14,"m":40,"v":145},
{"c":14,"m":41,"v":147},{"c":14,"m":42,"v":139},{"c":14,"m":43,"v":132},
{"c":15,"m":1,"v":14},{"c":15,"m":2,"v":52},{"c":15,"m":3,"v":48},{"c":15,"m":4,"v":48},{"c":15,"m":5,"v":49},{"c":15,"m":6,"v":53},{"c":15,"m":7,"v":56},{"c":15,"m":8,"v":59},{"c":15,"m":9,"v":61},{"c":15,"m":10,"v":63},
{"c":15,"m":11,"v":66},{"c":15,"m":12,"v":71},{"c":15,"m":13,"v":80},{"c":15,"m":14,"v":83},{"c":15,"m":15,"v":80},{"c":15,"m":16,"v":78},{"c":15,"m":17,"v":80},{"c":15,"m":18,"v":84},{"c":15,"m":19,"v":88},{"c":15,"m":20,"v":91},
{"c":15,"m":21,"v":92},{"c":15,"m":22,"v":94},{"c":15,"m":23,"v":98},{"c":15,"m":24,"v":104},{"c":15,"m":25,"v":115},{"c":15,"m":26,"v":118},{"c":15,"m":27,"v":112},{"c":15,"m":28,"v":108},{"c":15,"m":29,"v":109},{"c":15,"m":30,"v":114},
{"c":15,"m":31,"v":116},{"c":15,"m":32,"v":118},{"c":15,"m":33,"v":119},{"c":15,"m":34,"v":120},{"c":15,"m":35,"v":123},{"c":15,"m":36,"v":130},{"c":15,"m":37,"v":142},{"c":15,"m":38,"v":143},{"c":15,"m":39,"v":135},{"c":15,"m":40,"v":128},
{"c":16,"m":1,"v":18},{"c":16,"m":2,"v":68},{"c":16,"m":3,"v":61},{"c":16,"m":4,"v":63},{"c":16,"m":5,"v":65},{"c":16,"m":6,"v":65},{"c":16,"m":7,"v":66},{"c":16,"m":8,"v":68},{"c":16,"m":9,"v":73},{"c":16,"m":10,"v":80},
{"c":16,"m":11,"v":82},{"c":16,"m":12,"v":79},{"c":16,"m":13,"v":76},{"c":16,"m":14,"v":77},{"c":16,"m":15,"v":81},{"c":16,"m":16,"v":84},{"c":16,"m":17,"v":85},{"c":16,"m":18,"v":86},{"c":16,"m":19,"v":87},{"c":16,"m":20,"v":90},
{"c":16,"m":21,"v":96},{"c":16,"m":22,"v":105},{"c":16,"m":23,"v":107},{"c":16,"m":24,"v":102},{"c":16,"m":25,"v":98},{"c":16,"m":26,"v":99},{"c":16,"m":27,"v":102},{"c":16,"m":28,"v":105},{"c":16,"m":29,"v":107},{"c":16,"m":30,"v":107},
{"c":16,"m":31,"v":108},{"c":16,"m":32,"v":111},{"c":16,"m":33,"v":117},{"c":16,"m":34,"v":128},{"c":16,"m":35,"v":130},{"c":16,"m":36,"v":123},{"c":16,"m":37,"v":118},
{"c":17,"m":1,"v":17},{"c":17,"m":2,"v":65},{"c":17,"m":3,"v":59},{"c":17,"m":4,"v":60},{"c":17,"m":5,"v":62},{"c":17,"m":6,"v":66},{"c":17,"m":7,"v":73},{"c":17,"m":8,"v":75},{"c":17,"m":9,"v":72},{"c":17,"m":10,"v":70},
{"c":17,"m":11,"v":71},{"c":17,"m":12,"v":74},{"c":17,"m":13,"v":77},{"c":17,"m":14,"v":78},{"c":17,"m":15,"v":79},{"c":17,"m":16,"v":80},{"c":17,"m":17,"v":83},{"c":17,"m":18,"v":88},{"c":17,"m":19,"v":97},{"c":17,"m":20,"v":98},
{"c":17,"m":21,"v":93},{"c":17,"m":22,"v":89},{"c":17,"m":23,"v":90},{"c":17,"m":24,"v":93},{"c":17,"m":25,"v":95},{"c":17,"m":26,"v":96},{"c":17,"m":27,"v":97},{"c":17,"m":28,"v":97},{"c":17,"m":29,"v":99},{"c":17,"m":30,"v":105},
{"c":17,"m":31,"v":114},{"c":17,"m":32,"v":116},{"c":17,"m":33,"v":110},{"c":17,"m":34,"v":105},
{"c":18,"m":1,"v":17},{"c":18,"m":2,"v":66},{"c":18,"m":3,"v":64},{"c":18,"m":4,"v":71},{"c":18,"m":5,"v":73},{"c":18,"m":6,"v":70},{"c":18,"m":7,"v":67},{"c":18,"m":8,"v":68},{"c":18,"m":9,"v":71},{"c":18,"m":10,"v":74},
{"c":18,"m":11,"v":76},{"c":18,"m":12,"v":76},{"c":18,"m":13,"v":77},{"c":18,"m":14,"v":80},{"c":18,"m":15,"v":85},{"c":18,"m":16,"v":93},{"c":18,"m":17,"v":95},{"c":18,"m":18,"v":90},{"c":18,"m":19,"v":86},{"c":18,"m":20,"v":86},
{"c":18,"m":21,"v":89},{"c":18,"m":22,"v":92},{"c":18,"m":23,"v":93},{"c":18,"m":24,"v":93},{"c":18,"m":25,"v":93},{"c":18,"m":26,"v":96},{"c":18,"m":27,"v":101},{"c":18,"m":28,"v":110},{"c":18,"m":29,"v":112},{"c":18,"m":30,"v":106},
{"c":18,"m":31,"v":102},
{"c":19,"m":1,"v":18},{"c":19,"m":2,"v":72},{"c":19,"m":3,"v":66},{"c":19,"m":4,"v":64},{"c":19,"m":5,"v":65},{"c":19,"m":6,"v":68},{"c":19,"m":7,"v":70},{"c":19,"m":8,"v":73},{"c":19,"m":9,"v":74},{"c":19,"m":10,"v":75},
{"c":19,"m":11,"v":77},{"c":19,"m":12,"v":82},{"c":19,"m":13,"v":91},{"c":19,"m":14,"v":92},{"c":19,"m":15,"v":88},{"c":19,"m":16,"v":84},{"c":19,"m":17,"v":84},{"c":19,"m":18,"v":87},{"c":19,"m":19,"v":89},{"c":19,"m":20,"v":90},
{"c":19,"m":21,"v":90},{"c":19,"m":22,"v":91},{"c":19,"m":23,"v":93},{"c":19,"m":24,"v":98},{"c":19,"m":25,"v":107},{"c":19,"m":26,"v":108},{"c":19,"m":27,"v":102},{"c":19,"m":28,"v":97},
{"c":20,"m":1,"v":18},{"c":20,"m":2,"v":67},{"c":20,"m":3,"v":61},{"c":20,"m":4,"v":64},{"c":20,"m":5,"v":65},{"c":20,"m":6,"v":66},{"c":20,"m":7,"v":68},{"c":20,"m":8,"v":70},{"c":20,"m":9,"v":74},{"c":20,"m":10,"v":82},
{"c":20,"m":11,"v":84},{"c":20,"m":12,"v":80},{"c":20,"m":13,"v":77},{"c":20,"m":14,"v":78},{"c":20,"m":15,"v":81},{"c":20,"m":16,"v":83},{"c":20,"m":17,"v":85},{"c":20,"m":18,"v":85},{"c":20,"m":19,"v":86},{"c":20,"m":20,"v":88},
{"c":20,"m":21,"v":93},{"c":20,"m":22,"v":102},{"c":20,"m":23,"v":104},{"c":20,"m":24,"v":98},{"c":20,"m":25,"v":94},
{"c":21,"m":1,"v":17},{"c":21,"m":2,"v":68},{"c":21,"m":3,"v":62},{"c":21,"m":4,"v":63},{"c":21,"m":5,"v":65},{"c":21,"m":6,"v":69},{"c":21,"m":7,"v":76},{"c":21,"m":8,"v":78},{"c":21,"m":9,"v":75},{"c":21,"m":10,"v":73},
{"c":21,"m":11,"v":74},{"c":21,"m":12,"v":77},{"c":21,"m":13,"v":79},{"c":21,"m":14,"v":81},{"c":21,"m":15,"v":82},{"c":21,"m":16,"v":82},{"c":21,"m":17,"v":85},{"c":21,"m":18,"v":90},{"c":21,"m":19,"v":98},{"c":21,"m":20,"v":100},
{"c":21,"m":21,"v":95},{"c":21,"m":22,"v":91},
{"c":22,"m":1,"v":18},{"c":22,"m":2,"v":68},{"c":22,"m":3,"v":66},{"c":22,"m":4,"v":73},{"c":22,"m":5,"v":75},{"c":22,"m":6,"v":72},{"c":22,"m":7,"v":69},{"c":22,"m":8,"v":70},{"c":22,"m":9,"v":73},{"c":22,"m":10,"v":76},
{"c":22,"m":11,"v":78},{"c":22,"m":12,"v":78},{"c":22,"m":13,"v":79},{"c":22,"m":14,"v":82},{"c":22,"m":15,"v":87},{"c":22,"m":16,"v":95},{"c":22,"m":17,"v":97},{"c":22,"m":18,"v":92},{"c":22,"m":19,"v":88},
{"c":23,"m":1,"v":18},{"c":23,"m":2,"v":70},{"c":23,"m":3,"v":64},{"c":23,"m":4,"v":63},{"c":23,"m":5,"v":64},{"c":23,"m":6,"v":67},{"c":23,"m":7,"v":69},{"c":23,"m":8,"v":71},{"c":23,"m":9,"v":72},{"c":23,"m":10,"v":73},
{"c":23,"m":11,"v":76},{"c":23,"m":12,"v":81},{"c":23,"m":13,"v":89},{"c":23,"m":14,"v":90},{"c":23,"m":15,"v":86},{"c":23,"m":16,"v":82},
{"c":24,"m":1,"v":17},{"c":24,"m":2,"v":66},{"c":24,"m":3,"v":59},{"c":24,"m":4,"v":62},{"c":24,"m":5,"v":64},{"c":24,"m":6,"v":65},{"c":24,"m":7,"v":67},{"c":24,"m":8,"v":69},{"c":24,"m":9,"v":74},{"c":24,"m":10,"v":82},
{"c":24,"m":11,"v":85},{"c":24,"m":12,"v":83},{"c":24,"m":13,"v":81},
{"c":25,"m":1,"v":17},{"c":25,"m":2,"v":63},{"c":25,"m":3,"v":57},{"c":25,"m":4,"v":58},{"c":25,"m":5,"v":60},{"c":25,"m":6,"v":64},{"c":25,"m":7,"v":71},{"c":25,"m":8,"v":73},{"c":25,"m":9,"v":70},{"c":25,"m":10,"v":68},
{"c":26,"m":1,"v":16},{"c":26,"m":2,"v":62},{"c":26,"m":3,"v":59},{"c":26,"m":4,"v":65},{"c":26,"m":5,"v":67},{"c":26,"m":6,"v":65},{"c":26,"m":7,"v":63},
{"c":27,"m":1,"v":17},{"c":27,"m":2,"v":64},{"c":27,"m":3,"v":60},{"c":27,"m":4,"v":59}
]},
"mark": {"type": "line", "strokeWidth": 5.5, "strokeCap": "round", "strokeJoin": "round"},
"encoding": {
"color": {"field": "c", "type": "nominal", "legend": null,
 "scale": {"domain": [0,1,2,3,4,5,6,7,8,9,10,11,12,13,14,15,16,17,18,19,20,21,22,23,24,25,26,27],
 "range": ["#e6cef5","#e2c6f3","#ddbcf1","#d9b3ef","#d5a9ee","#d19fec","#cd94eb","#ca89ea","#c77be9","#c35ee9","#be2de8","#ba12e6","#b70de2","#b30cdd","#ad0bd7","#a60bcf","#900abd","#8a0ab5","#840aad","#800aa7","#7c0aa1","#7a0a9e","#7e0aa6","#830aad","#880ab4","#8d0abb","#930bc2","#990bc8"]}}
}
},
{
"data": {"values": [{"m": 1, "v": 21}, {"m": 2, "v": 59}, {"m": 3, "v": 58}]},
"mark": {"type": "line", "color": "#b5b5b5", "strokeWidth": 3, "strokeDash": [5, 4]},
"encoding": {}
},
{
"data": {"values": [{"g": 0, "s": "a", "t": "b"}, {"g": 1, "s": "a", "t": "b"}]},
"mark": {"type": "point", "opacity": 0},
"encoding": {
"x": {"datum": 1}, "y": {"datum": 0},
"color": {"field": "g", "type": "quantitative",
 "scale": {"domain": [0, 0.45, 1], "range": ["#6510b4", "#7a24be", "#e2c6f3"]},
 "legend": {"orient": "none", "legendX": 1173, "legendY": 477, "direction": "vertical", "title": null, "padding": 0,
  "gradientLength": 153, "gradientThickness": 18, "gradientStrokeWidth": 0,
  "values": [0, 1], "labelExpr": "''", "labelFontSize": 1}},
"shape": {"field": "s", "type": "nominal",
 "legend": {"orient": "none", "legendX": 1145, "legendY": 665, "title": "Q1’17", "padding": 0,
  "titleFont": "Inter", "titleFontSize": 27, "titleFontWeight": 800, "titleColor": "#e2c6f3",
  "titleAnchor": "start", "titleAlign": "left", "titleBaseline": "top", "titlePadding": 0,
  "labelExpr": "''", "labelFontSize": 1, "symbolOpacity": 0, "symbolStrokeWidth": 0, "symbolSize": 1}},
"size": {"field": "t", "type": "ordinal",
 "legend": {"orient": "none", "legendX": 1140, "legendY": 856, "title": "Q1'24", "padding": 0,
  "titleFont": "Inter", "titleFontSize": 27, "titleFontWeight": 800, "titleColor": "#6b0a8c",
  "titleAnchor": "start", "titleAlign": "left", "titleBaseline": "top", "titlePadding": 0,
  "labelExpr": "''", "labelFontSize": 1, "symbolOpacity": 0, "symbolStrokeWidth": 0}}
}
}
]
}
]
}
